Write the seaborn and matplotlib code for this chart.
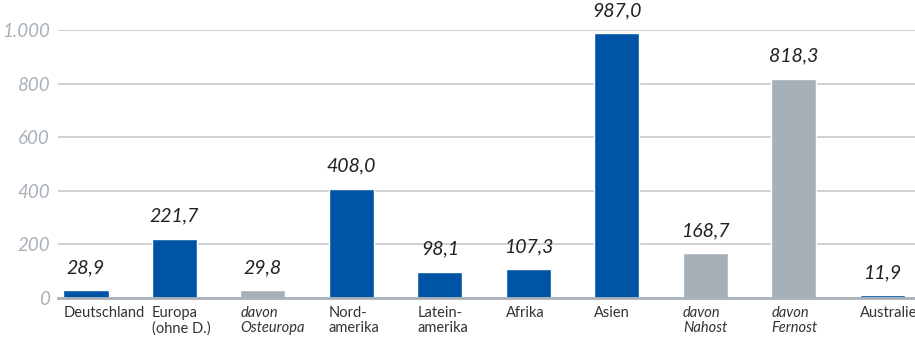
import matplotlib
matplotlib.use("Agg")
import matplotlib.pyplot as plt
import matplotlib.transforms as mtransforms
import seaborn as sns
import pandas as pd

regions = ["Deutschland", "Europa\n(ohne D.)", "davon\nOsteuropa", "Nord-\namerika",
           "Latein-\namerika", "Afrika", "Asien", "davon\nNahost", "davon\nFernost", "Australien"]
values = [28.9, 221.7, 29.8, 408.0, 98.1, 107.3, 987.0, 168.7, 818.3, 11.9]
is_sub = [False, False, True, False, False, False, False, True, True, False]
yticks = [0, 200, 400, 600, 800, 1000]
ytick_labels = ["0", "200", "400", "600", "800", "1.000"]

BLUE = "#0054a6"
GREY = "#a7afb7"
AXIS_GREY = "#a9b1b9"
GRID = "#c9ced4"

df = pd.DataFrame({"region": regions, "value": values,
                   "kind": ["sub" if s else "main" for s in is_sub]})

sns.set_theme(style="white")
plt.rcParams["font.family"] = ["Lato", "DejaVu Sans"]

fig = plt.figure(figsize=(9.15, 3.43), dpi=100)
ax = fig.add_axes([58 / 915, 1 - 298 / 343, 1 - 58 / 915, 268 / 343])

sns.barplot(data=df, x="region", y="value", hue="kind",
            palette={"main": BLUE, "sub": GREY}, dodge=False,
            width=0.51, legend=False, ax=ax, saturation=1)

ax.set_xlim(-0.316, 9.37)
ax.set_ylim(0, 1000)
ax.set_yticks(yticks)
ax.set_yticklabels(ytick_labels, fontstyle="italic", color=AXIS_GREY, fontsize=13.5)
ax.yaxis.grid(True, color=GRID, linewidth=1.3)
ax.set_axisbelow(True)
for s in ["top", "right", "left"]:
    ax.spines[s].set_visible(False)
ax.spines["bottom"].set_color(AXIS_GREY)
ax.spines["bottom"].set_linewidth(2)
ax.tick_params(axis="y", length=0, pad=6)
ax.tick_params(axis="x", length=0, pad=6)
ax.set_xlabel("")
ax.set_ylabel("")

ax.set_xticks(range(len(regions)))
ax.set_xticklabels(regions, fontsize=10.5, color="#333333", ha="left",
                   va="top", linespacing=1.1)
# labels start at the left edge of each bar
offset = mtransforms.ScaledTranslation(-22.5 / 100, 0, fig.dpi_scale_trans)
for lab, sub in zip(ax.get_xticklabels(), is_sub):
    if sub:
        lab.set_fontstyle("italic")
    lab.set_transform(lab.get_transform() + offset)

for i, v in enumerate(values):
    ax.annotate(f"{v:.1f}".replace(".", ","), (i, v), xytext=(0, 10),
                textcoords="offset points", ha="center", va="bottom",
                fontsize=14, fontstyle="italic", color="#222222")

fig.savefig("out.png", dpi=100)
